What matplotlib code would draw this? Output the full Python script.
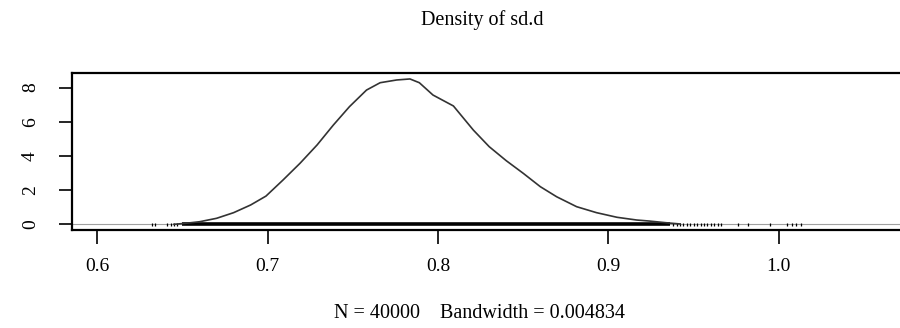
import matplotlib
matplotlib.use("Agg")
import matplotlib.pyplot as plt

plt.rcParams['font.family'] = ['Liberation Serif', 'DejaVu Serif']

# kernel density estimate of sd.d
dens_x = [0.645, 0.652, 0.660, 0.670, 0.680, 0.690, 0.699, 0.709, 0.719,
          0.729, 0.7385, 0.748, 0.758, 0.766, 0.7757, 0.7835, 0.789, 0.797, 0.809,
          0.8207, 0.830, 0.840, 0.850, 0.860, 0.8696, 0.8813, 0.893, 0.905, 0.9166,
          0.924, 0.935, 0.942]
dens_y = [0.0, 0.06, 0.15, 0.35, 0.68, 1.13, 1.65, 2.59, 3.57,
          4.64, 5.80, 6.88, 7.85, 8.28, 8.44, 8.50, 8.28, 7.56, 6.92,
          5.51, 4.54, 3.72, 2.98, 2.20, 1.61, 1.03, 0.68, 0.41, 0.25,
          0.19, 0.08, 0.02]

# rug: dense core as a span, sparse tail observations listed
rug_core = [0.6495, 0.936]
rug_tail = [0.632, 0.634, 0.641, 0.643, 0.645, 0.647,
            0.938, 0.940, 0.942, 0.944, 0.946, 0.948, 0.950, 0.952, 0.954,
            0.956, 0.958, 0.960, 0.962, 0.964, 0.966, 0.976, 0.982, 0.995,
            1.005, 1.0075, 1.010, 1.013]

x_ticks = [0.6, 0.7, 0.8, 0.9, 1.0]
x_labels = ['0.6', '0.7', '0.8', '0.9', '1.0']
y_ticks = [0, 2, 4, 6, 8]

n_obs = 40000
bandwidth = 0.004834

fig = plt.figure(figsize=(9, 3.28), dpi=100)
ax = fig.add_axes([71.7 / 900, 98 / 328, (905 - 71.7) / 900, 157 / 328])

ax.axhline(0, color='#a0a0a0', lw=0.8, zorder=1)
ax.plot(dens_x, dens_y, color='#333333', lw=1.2, zorder=3)
ax.hlines(0, rug_core[0], rug_core[1], color='black', lw=2.6, zorder=2)
ax.vlines(rug_tail, -0.09, 0.09, color='black', lw=0.9, zorder=2)

ax.set_xlim(0.585, 1.074)
ax.set_ylim(-0.333, 8.848)
ax.set_xticks(x_ticks)
ax.set_xticklabels(x_labels)
ax.set_yticks(y_ticks)
ax.set_yticklabels([str(v) for v in y_ticks], rotation=90, va='center')

for s in ax.spines.values():
    s.set_linewidth(1.6)
    s.set_color('black')
ax.tick_params(axis='x', length=10, width=1.2, pad=10, labelsize=14)
ax.tick_params(axis='y', length=9.5, width=1.2, pad=14, labelsize=14)

fig.text(482 / 900, 1 - 20 / 328, 'Density of sd.d', ha='center', va='center',
         fontsize=14.5)
fig.text(480 / 900, 1 - 313 / 328,
         'N = %d    Bandwidth = %s' % (n_obs, bandwidth),
         ha='center', va='center', fontsize=14.5)

fig.savefig('out.png', dpi=100)
